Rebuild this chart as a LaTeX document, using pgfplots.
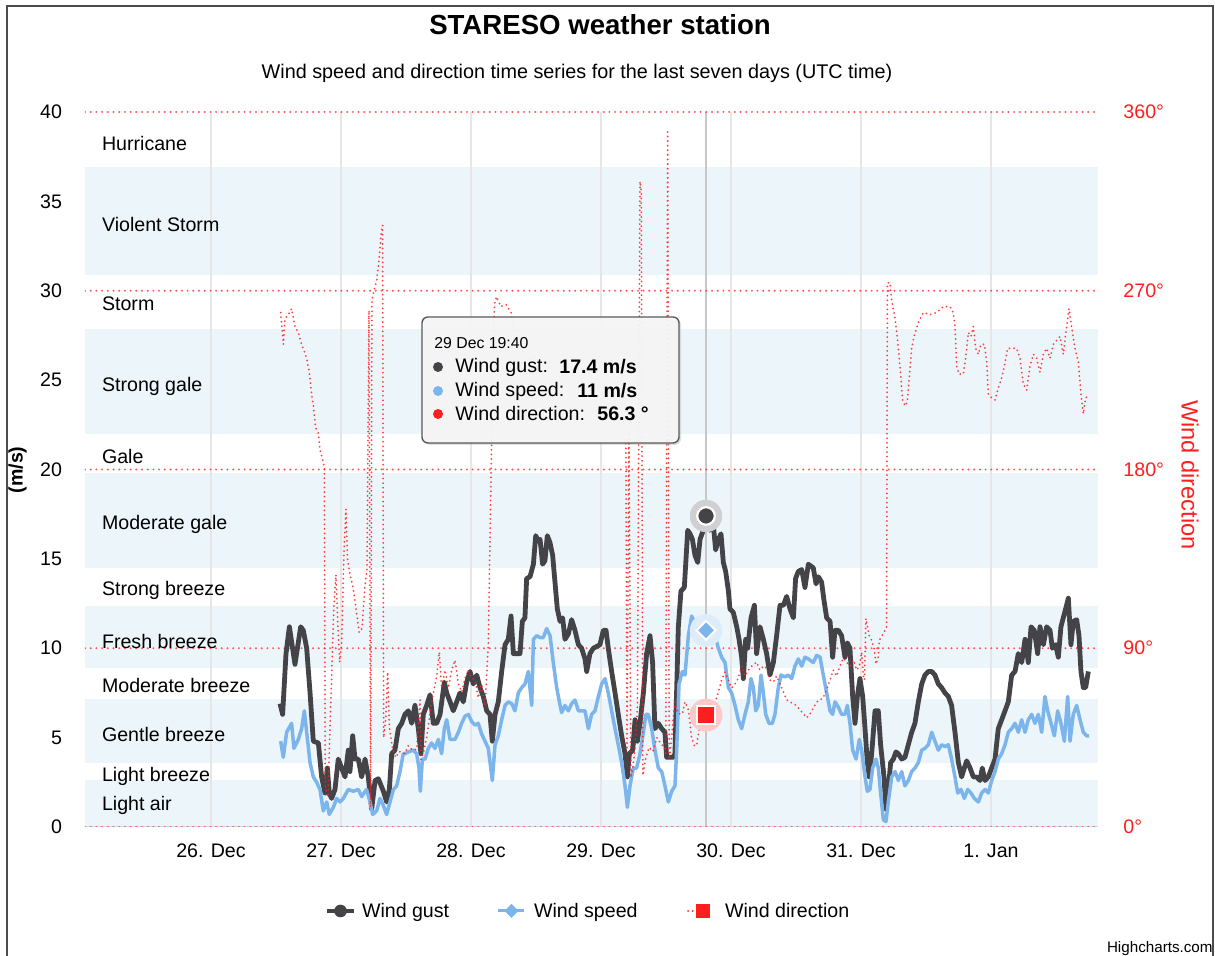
\documentclass[border=0pt]{standalone}
\usepackage{fontspec}
\setmainfont{Liberation Sans}
\usepackage{pgfplots}
\pgfplotsset{compat=1.18}
\definecolor{band}{RGB}{235,245,250}
\definecolor{gust}{HTML}{434348}
\definecolor{speed}{HTML}{7CB5EC}
\definecolor{dirred}{RGB}{255,30,30}
\definecolor{gridgray}{HTML}{E6E6E6}
\definecolor{axisline}{HTML}{CCD6EB}
\definecolor{gusthalo}{RGB}{208,208,210}
\definecolor{speedhalo}{RGB}{222,236,250}
\definecolor{dirhalo}{RGB}{255,200,200}
\newcommand{\fs}{\fontsize{9.8}{11.5}\selectfont}
\begin{document}
\begin{tikzpicture}
\useasboundingbox (0,0) rectangle (607.5pt,478pt);
\draw[black!70, line width=0.7pt] (3.5pt,-5pt) rectangle (606.5pt,475pt);
\node[font=\fontsize{13.8}{16}\selectfont\bfseries, inner sep=0] at (300pt,465.5pt) {STARESO weather station};
\node[font=\fontsize{9.9}{12}\selectfont, inner sep=0] at (288.5pt,441.5pt) {Wind speed and direction time series for the last seven days (UTC time)};

\begin{axis}[
  at={(42.5pt,64.5pt)}, anchor=south west, scale only axis,
  width=506.5pt, height=357.5pt,
  xmin=-0.9692, xmax=6.8231, ymin=0, ymax=40,
  axis line style={draw=none},
  tick style={draw=none},
  xtick={0,1,2,3,4,5,6},
  xticklabels={26. Dec,27. Dec,28. Dec,29. Dec,30. Dec,31. Dec,1. Jan},
  ytick={0,5,...,40},
  /pgf/number format/assume math mode=true,
  tick label style={font=\fs},
  xticklabel style={anchor=base, yshift=-15.5pt},
  yticklabel style={anchor=east, xshift=-8pt},
]
% plot bands
\fill[band] (-0.9692,0) rectangle (6.8231,2.65);
\fill[band] (-0.9692,3.57) rectangle (6.8231,7.18);
\fill[band] (-0.9692,8.92) rectangle (6.8231,12.34);
\fill[band] (-0.9692,14.48) rectangle (6.8231,19.8);
\fill[band] (-0.9692,21.98) rectangle (6.8231,27.87);
\fill[band] (-0.9692,30.87) rectangle (6.8231,36.92);
% day grid lines
\draw[gridgray, line width=1.2pt] (0,0) -- (0,40);
\draw[gridgray, line width=1.2pt] (1,0) -- (1,40);
\draw[gridgray, line width=1.2pt] (2,0) -- (2,40);
\draw[gridgray, line width=1.2pt] (3,0) -- (3,40);
\draw[gridgray, line width=1.2pt] (4,0) -- (4,40);
\draw[gridgray, line width=1.2pt] (5,0) -- (5,40);
\draw[gridgray, line width=1.2pt] (6,0) -- (6,40);
% crosshair
\draw[black!22, line width=1.4pt] (3.808,0) -- (3.808,40);
% axis line and direction grid lines (0,90,180,270,360 deg)
\draw[axisline, line width=0.7pt] (-0.9692,0) -- (6.8231,0);
\draw[dirred!75, line width=1.1pt, line cap=round, dash pattern=on 0pt off 2.85pt] (-0.9692,0) -- (6.8231,0);
\draw[dirred!75, line width=1.1pt, line cap=round, dash pattern=on 0pt off 2.85pt] (-0.9692,10) -- (6.8231,10);
\draw[dirred!75, line width=1.1pt, line cap=round, dash pattern=on 0pt off 2.85pt] (-0.9692,20) -- (6.8231,20);
\draw[dirred!75, line width=1.1pt, line cap=round, dash pattern=on 0pt off 2.85pt] (-0.9692,30) -- (6.8231,30);
\draw[dirred!75, line width=1.1pt, line cap=round, dash pattern=on 0pt off 2.85pt] (-0.9692,40) -- (6.8231,40);
% band labels
\begin{scope}[every node/.style={anchor=west, font=\fs, inner sep=0}]
\node at (-0.841,38.26) {Hurricane};
\node at (-0.841,33.7) {Violent Storm};
\node at (-0.841,29.26) {Storm};
\node at (-0.841,24.65) {Strong gale};
\node at (-0.841,20.7) {Gale};
\node at (-0.841,16.95) {Moderate gale};
\node at (-0.841,13.25) {Strong breeze};
\node at (-0.841,10.4) {Fresh breeze};
\node at (-0.841,7.93) {Moderate breeze};
\node at (-0.841,5.17) {Gentle breeze};
\node at (-0.841,2.84) {Light breeze};
\node at (-0.841,1.18) {Light air};
\end{scope}
% Wind gust
\addplot[gust, line width=2.4pt, line join=round, mark=none] coordinates {
(0.531,6.9)(0.551,6.3)(0.577,9.7)(0.603,11.2)(0.646,9.1)(0.690,11.2)(0.710,11.0)(0.736,10.0)
(0.762,7.5)(0.787,4.8)(0.826,4.7)(0.851,2.8)(0.877,1.9)(0.895,3.3)(0.910,1.9)(0.928,1.6)
(0.954,2.1)(0.979,3.8)(1.005,3.3)(1.031,2.8)(1.056,4.3)(1.069,3.1)(1.090,5.1)(1.108,3.8)
(1.133,3.8)(1.159,2.8)(1.185,3.8)(1.210,2.8)(1.236,1.0)(1.262,2.6)(1.287,2.7)(1.326,2.0)
(1.351,1.4)(1.372,2.1)(1.390,4.1)(1.415,4.3)(1.441,5.5)(1.467,5.8)(1.492,6.3)(1.518,6.5)
(1.544,5.8)(1.569,6.8)(1.595,5.5)(1.615,4.1)(1.633,6.3)(1.659,6.8)(1.685,7.4)(1.710,5.8)
(1.736,5.8)(1.762,6.3)(1.795,8.1)(1.813,7.5)(1.839,7.0)(1.864,6.5)(1.890,7.0)(1.915,7.5)
(1.941,7.0)(1.967,8.1)(1.992,8.7)(2.018,8.0)(2.044,8.5)(2.069,7.8)(2.095,7.3)(2.121,6.5)
(2.146,6.3)(2.164,4.8)(2.185,6.3)(2.210,7.0)(2.236,8.7)(2.262,10.2)(2.287,10.5)(2.308,11.8)
(2.326,9.7)(2.351,9.7)(2.377,9.7)(2.395,11.5)(2.415,11.7)(2.428,13.9)(2.454,14.0)(2.480,14.7)
(2.498,16.3)(2.518,16.0)(2.531,16.1)(2.551,14.7)(2.569,14.9)(2.587,16.3)(2.608,15.9)(2.628,15.2)
(2.646,13.7)(2.664,12.2)(2.685,11.5)(2.705,11.7)(2.723,10.5)(2.749,10.8)(2.774,11.6)(2.800,11.0)
(2.826,10.2)(2.851,10.0)(2.877,9.4)(2.890,8.7)(2.915,9.7)(2.941,10.0)(2.967,10.1)(2.992,10.2)
(3.018,11.0)(3.039,11.0)(3.056,10.0)(3.082,8.7)(3.108,7.5)(3.133,6.3)(3.159,5.1)(3.185,4.1)
(3.203,2.8)(3.218,4.1)(3.244,4.3)(3.262,6.0)(3.280,4.8)(3.300,5.8)(3.326,7.5)(3.351,9.7)
(3.377,10.7)(3.397,9.2)(3.415,5.5)(3.441,5.8)(3.467,5.5)(3.492,5.3)(3.505,3.9)(3.531,3.9)
(3.556,3.9)(3.569,4.1)(3.595,11.2)(3.615,13.2)(3.641,13.4)(3.667,16.6)(3.685,16.4)(3.703,16.1)
(3.723,15.2)(3.744,14.8)(3.762,16.1)(3.787,16.6)(3.808,17.4)(3.838,16.6)(3.864,16.9)(3.882,15.5)
(3.903,16.1)(3.923,16.4)(3.941,14.8)(3.959,14.3)(3.980,13.2)(3.992,12.2)(4.018,12.0)(4.044,11.2)
(4.062,10.5)(4.082,9.5)(4.095,8.3)(4.113,10.5)(4.128,10.0)(4.154,11.7)(4.180,12.4)(4.197,9.7)
(4.223,11.2)(4.249,10.5)(4.274,9.7)(4.300,8.5)(4.326,9.2)(4.351,10.7)(4.377,12.4)(4.403,12.4)
(4.428,12.9)(4.454,12.2)(4.480,11.7)(4.497,13.9)(4.518,14.3)(4.544,14.4)(4.569,13.4)(4.595,14.7)
(4.633,14.5)(4.654,13.6)(4.672,14.0)(4.697,13.7)(4.715,12.7)(4.736,11.7)(4.762,11.5)(4.782,9.5)
(4.800,11.0)(4.826,11.0)(4.851,10.7)(4.877,9.5)(4.895,10.3)(4.915,10.0)(4.936,7.3)(4.954,5.8)
(4.972,7.3)(4.992,8.3)(5.013,7.3)(5.031,5.5)(5.049,3.6)(5.064,2.8)(5.082,4.1)(5.108,6.5)
(5.133,6.5)(5.151,4.6)(5.177,2.8)(5.192,1.0)(5.210,2.1)(5.228,3.6)(5.249,3.8)(5.269,4.2)
(5.287,4.1)(5.313,3.8)(5.338,3.9)(5.364,4.6)(5.390,5.3)(5.415,5.8)(5.441,7.0)(5.467,8.0)
(5.492,8.5)(5.518,8.7)(5.544,8.7)(5.569,8.5)(5.595,8.0)(5.620,7.8)(5.646,7.5)(5.672,7.3)
(5.697,6.8)(5.723,5.3)(5.749,3.6)(5.774,2.8)(5.795,3.3)(5.813,3.7)(5.839,3.3)(5.864,2.8)
(5.890,2.8)(5.915,2.6)(5.933,3.3)(5.954,2.6)(5.979,2.8)(6.005,3.3)(6.031,3.8)(6.056,5.5)
(6.082,6.0)(6.108,6.5)(6.133,7.0)(6.159,8.5)(6.185,8.7)(6.210,9.7)(6.236,9.2)(6.262,10.5)
(6.287,9.2)(6.308,11.2)(6.333,11.0)(6.359,9.7)(6.377,11.2)(6.403,10.2)(6.428,11.2)(6.454,11.0)
(6.472,10.0)(6.497,10.2)(6.518,9.5)(6.538,11.2)(6.556,11.7)(6.574,12.2)(6.595,12.8)(6.615,10.2)
(6.633,11.5)(6.659,11.6)(6.677,10.7)(6.692,8.7)(6.710,7.8)(6.728,7.8)(6.749,8.7)
};
% Wind speed
\addplot[speed, line width=1.75pt, line join=round, mark=none] coordinates {
(0.536,4.8)(0.556,3.9)(0.582,5.3)(0.620,5.8)(0.638,4.4)(0.672,4.9)(0.697,5.5)(0.718,6.5)
(0.736,5.3)(0.762,3.6)(0.787,2.8)(0.813,2.5)(0.838,2.1)(0.864,0.9)(0.890,1.4)(0.910,0.7)
(0.941,1.1)(0.967,1.6)(0.992,1.4)(1.018,1.6)(1.056,2.1)(1.095,2.0)(1.133,2.1)(1.159,1.7)
(1.197,2.1)(1.223,1.4)(1.244,0.7)(1.274,0.9)(1.300,1.6)(1.326,1.2)(1.351,0.7)(1.377,1.4)
(1.403,2.1)(1.428,2.3)(1.454,3.1)(1.479,4.1)(1.492,4.1)(1.518,4.2)(1.556,4.3)(1.582,4.1)
(1.600,3.3)(1.610,2.0)(1.626,3.8)(1.646,3.8)(1.672,4.4)(1.697,4.7)(1.723,4.4)(1.749,4.9)
(1.774,4.1)(1.795,5.5)(1.813,6.0)(1.839,4.9)(1.877,4.9)(1.903,5.3)(1.928,5.8)(1.954,6.2)
(1.980,6.3)(2.005,5.9)(2.031,5.7)(2.056,5.8)(2.082,5.2)(2.108,4.8)(2.133,4.4)(2.164,2.6)
(2.185,4.6)(2.210,5.1)(2.236,6.0)(2.262,6.8)(2.287,7.0)(2.313,6.9)(2.338,6.5)(2.364,7.5)
(2.390,7.8)(2.415,8.0)(2.441,8.7)(2.467,6.8)(2.480,10.5)(2.505,10.7)(2.531,10.6)(2.556,10.6)
(2.582,11.1)(2.608,10.7)(2.633,9.2)(2.659,7.8)(2.680,7.0)(2.697,6.4)(2.723,6.8)(2.749,6.5)
(2.774,6.9)(2.800,7.1)(2.826,6.5)(2.851,6.5)(2.877,6.5)(2.903,5.5)(2.928,6.3)(2.954,6.5)
(2.980,7.3)(3.005,8.0)(3.031,8.3)(3.056,7.5)(3.082,6.5)(3.108,5.5)(3.133,4.6)(3.159,3.6)
(3.185,2.3)(3.203,1.1)(3.223,2.3)(3.249,3.3)(3.274,3.3)(3.300,4.1)(3.326,5.3)(3.346,6.3)
(3.364,6.3)(3.390,5.5)(3.415,4.3)(3.441,3.3)(3.467,3.1)(3.492,2.3)(3.518,1.4)(3.544,2.0)
(3.569,2.3)(3.582,4.3)(3.600,8.0)(3.626,8.7)(3.646,8.5)(3.672,10.7)(3.697,11.8)(3.718,11.5)
(3.736,10.5)(3.762,11.0)(3.787,11.2)(3.808,11.0)(3.826,11.0)(3.851,11.0)(3.877,10.7)(3.903,10.0)
(3.928,9.5)(3.954,9.2)(3.980,7.8)(4.005,7.5)(4.031,6.8)(4.056,6.0)(4.082,5.5)(4.108,6.3)
(4.133,7.0)(4.154,8.3)(4.172,7.8)(4.190,6.5)(4.210,6.8)(4.231,8.5)(4.249,7.5)(4.267,6.3)
(4.292,5.8)(4.318,5.8)(4.338,6.3)(4.364,7.8)(4.385,8.5)(4.415,8.4)(4.441,8.5)(4.467,8.3)
(4.492,9.0)(4.518,9.4)(4.544,9.0)(4.569,9.5)(4.595,9.4)(4.633,9.2)(4.659,9.6)(4.685,9.5)
(4.710,8.5)(4.736,7.5)(4.762,6.5)(4.782,6.3)(4.800,7.0)(4.826,6.7)(4.851,6.3)(4.877,6.3)
(4.895,6.8)(4.915,5.8)(4.936,4.3)(4.962,3.8)(4.987,4.9)(5.005,4.3)(5.031,2.8)(5.049,2.0)
(5.069,2.1)(5.090,3.3)(5.115,3.8)(5.133,3.3)(5.151,1.9)(5.172,0.4)(5.192,0.3)(5.210,1.4)
(5.236,2.8)(5.262,3.1)(5.287,2.6)(5.313,3.1)(5.338,2.3)(5.364,2.6)(5.390,3.1)(5.415,3.3)
(5.441,3.6)(5.467,4.3)(5.492,4.4)(5.518,4.6)(5.544,5.3)(5.569,4.8)(5.595,4.3)(5.620,4.6)
(5.646,4.5)(5.672,4.6)(5.697,3.8)(5.723,2.8)(5.744,1.9)(5.769,2.1)(5.795,1.6)(5.821,2.1)
(5.846,1.9)(5.872,1.6)(5.903,1.4)(5.928,1.9)(5.954,2.1)(5.979,1.9)(6.005,2.6)(6.031,3.1)
(6.056,3.8)(6.082,4.1)(6.108,4.6)(6.133,5.3)(6.159,5.5)(6.185,5.8)(6.210,5.3)(6.236,6.0)
(6.262,5.3)(6.287,6.0)(6.313,6.3)(6.338,5.8)(6.364,6.3)(6.390,5.3)(6.415,7.3)(6.436,6.5)
(6.462,5.8)(6.487,5.1)(6.513,6.5)(6.538,5.8)(6.564,4.8)(6.590,7.3)(6.608,4.8)(6.633,6.3)
(6.659,6.8)(6.685,6.0)(6.710,5.3)(6.736,5.1)(6.754,5.1)
};
% hover markers
\addplot[only marks, color=gusthalo, mark=*, mark size=7.9pt, mark options={gusthalo, fill=gusthalo}] coordinates {(3.808,17.4)};
\addplot[only marks, color=white, mark=*, mark size=4.4pt, mark options={draw=white, line width=1.1pt, fill=gust}] coordinates {(3.808,17.4)};
\addplot[only marks, color=speedhalo, mark=*, mark size=7.9pt, mark options={speedhalo, fill=speedhalo}] coordinates {(3.808,11.0)};
\addplot[only marks, color=white, mark=square*, mark size=3.36pt, mark options={rotate=45, draw=white, line width=1pt, fill=speed}] coordinates {(3.808,11.0)};
\end{axis}

\begin{axis}[
  at={(42.5pt,64.5pt)}, anchor=south west, scale only axis,
  width=506.5pt, height=357.5pt,
  xmin=-0.9692, xmax=6.8231, ymin=0, ymax=360,
  axis x line=none, axis y line*=right,
  axis line style={draw=none}, tick style={draw=none},
  ytick={0,90,180,270,360},
  yticklabels={0°,90°,180°,270°,360°},
  yticklabel style={anchor=west, xshift=9.2pt, font=\fs, text=dirred},
]
\addplot[dirred, opacity=0.85, line width=1pt, line cap=round, dash pattern=on 0pt off 2.3pt, mark=none] coordinates {
(0.536,259)(0.556,243)(0.569,256)(0.595,258)(0.620,261)(0.646,252)(0.672,249)(0.697,243)
(0.736,236)(0.756,229)(0.774,218)(0.787,212)(0.805,201)(0.826,198)(0.838,190)(0.859,185)
(0.872,181)(0.879,20)(0.900,15)(0.920,60)(0.946,112)(0.961,127)(0.977,100)(0.990,83)
(1.005,92)(1.023,139)(1.038,160)(1.051,134)(1.067,128)(1.095,120)(1.115,110)(1.140,98)
(1.162,100)(1.182,120)(1.200,130)(1.215,260)(1.228,10)(1.238,265)(1.254,270)(1.274,275)
(1.292,285)(1.310,300)(1.320,303)(1.328,45)(1.345,55)(1.359,78)(1.372,50)(1.395,40)
(1.420,35)(1.450,38)(1.480,37)(1.492,37)(1.518,41)(1.544,39)(1.582,39)(1.608,64)
(1.615,34)(1.633,37)(1.659,45)(1.697,63)(1.736,76)(1.756,88)(1.774,70)(1.800,79)
(1.826,70)(1.851,79)(1.877,84)(1.903,72)(1.928,68)(1.954,75)(1.980,79)(2.005,75)
(2.031,74)(2.056,65)(2.082,72)(2.108,61)(2.133,92)(2.154,176)(2.169,234)(2.180,263)
(2.195,267)(2.230,262)(2.270,263)(2.308,259)(2.35,245)(2.45,235)(2.55,240)(2.65,230)
(2.75,225)(2.85,235)(2.95,240)(3.05,230)(3.15,225)(3.19,215)(3.200,40)(3.215,200)
(3.230,25)(3.245,30)(3.262,40)(3.280,60)(3.300,325)(3.310,320)(3.322,26)(3.345,35)
(3.370,40)(3.400,38)(3.430,45)(3.460,42)(3.490,40)(3.498,36)(3.513,350)(3.525,34)
(3.545,45)(3.556,55)(3.569,63)(3.595,57)(3.626,57)(3.646,63)(3.672,59)(3.697,45)
(3.718,41)(3.736,41)(3.762,52)(3.808,56.3)(3.851,59)(3.890,65)(3.928,74)(3.954,78)
(3.980,74)(4.005,70)(4.031,72)(4.056,75)(4.082,81)(4.108,76)(4.133,79)(4.159,81)
(4.197,83)(4.223,79)(4.249,81)(4.274,80)(4.300,74)(4.326,73)(4.351,76)(4.377,72)
(4.403,68)(4.428,64)(4.454,63)(4.480,62)(4.505,61)(4.531,59)(4.556,57)(4.582,55)
(4.608,57)(4.659,63)(4.710,65)(4.762,74)(4.787,79)(4.813,76)(4.838,81)(4.864,85)
(4.890,83)(4.915,81)(4.941,84)(4.967,79)(4.987,81)(5.005,88)(5.018,76)(5.026,74)
(5.038,105)(5.049,101)(5.064,96)(5.082,94)(5.100,90)(5.115,82)(5.131,85)(5.141,94)
(5.159,96)(5.185,99)(5.197,101)(5.203,274)(5.223,274)(5.236,265)(5.262,256)(5.279,247)
(5.300,232)(5.320,215)(5.338,212)(5.356,214)(5.372,227)(5.390,241)(5.408,247)(5.441,254)
(5.479,259)(5.531,258)(5.582,259)(5.633,262)(5.672,262)(5.685,262)(5.710,259)(5.723,252)
(5.736,232)(5.754,228)(5.787,228)(5.805,236)(5.826,249)(5.846,247)(5.864,252)(5.882,241)
(5.903,238)(5.923,243)(5.949,243)(5.967,234)(5.979,218)(6.005,216)(6.031,215)(6.056,221)
(6.077,225)(6.103,232)(6.128,241)(6.159,241)(6.197,241)(6.223,236)(6.249,223)(6.274,220)
(6.300,232)(6.326,238)(6.351,236)(6.377,229)(6.403,238)(6.428,241)(6.454,236)(6.479,243)
(6.505,245)(6.531,247)(6.556,238)(6.582,252)(6.600,261)(6.620,252)(6.646,241)(6.672,234)
(6.692,218)(6.710,208)(6.728,216)(6.744,217)
};
\addplot[only marks, color=dirhalo, mark=*, mark size=8pt, mark options={dirhalo, fill=dirhalo}] coordinates {(3.808,56.3)};
\addplot[only marks, color=white, mark=square*, mark size=4.5pt, mark options={draw=white, line width=0.8pt, fill=dirred}] coordinates {(3.808,56.3)};
\end{axis}

% axis titles
\node[rotate=90, font=\fs\bfseries] at (8.75pt,243pt) {(m/s)};
\node[rotate=-90, text=dirred, font=\fontsize{11.8}{14}\selectfont] at (595pt,240.5pt) {Wind direction};

% tooltip
\fill[black!30, opacity=0.4, rounded corners=3pt] (212pt,255.5pt) rectangle (340.5pt,318.5pt);
\draw[fill=white!97!black, fill opacity=0.93, draw=black!65, line width=0.7pt, rounded corners=3pt] (211pt,256.5pt) rectangle (339.5pt,319.5pt);
\node[anchor=west, inner sep=0, font=\fontsize{7.9}{9}\selectfont] at (217pt,306.5pt) {29 Dec 19:40};
\fill[gust] (219pt,294.5pt) circle (2.5pt);
\fill[speed] (219pt,282.5pt) circle (2.5pt);
\fill[dirred] (219pt,271pt) circle (2.5pt);
\begin{scope}[every node/.style={anchor=west, inner sep=0, font=\fs}]
\node at (227.5pt,294.5pt) {Wind gust:};
\node at (227.5pt,282.5pt) {Wind speed:};
\node at (227.5pt,271pt) {Wind direction:};
\node[font=\fs\bfseries] at (279.5pt,294.5pt) {17.4 m/s};
\node[font=\fs\bfseries] at (288.5pt,282.5pt) {11 m/s};
\node[font=\fs\bfseries] at (298.5pt,271pt) {56.3 °};
\end{scope}

% legend
\draw[gust, line width=2pt] (163.5pt,22.5pt) -- (177pt,22.5pt);
\fill[gust] (170.25pt,22.5pt) circle (3.15pt);
\draw[speed, line width=1.5pt] (249pt,22.5pt) -- (262pt,22.5pt);
\fill[speed] (255.75pt,26pt) -- (259.25pt,22.5pt) -- (255.75pt,19pt) -- (252.25pt,22.5pt) -- cycle;
\draw[dirred, line width=1pt, line cap=round, dash pattern=on 0pt off 2.3pt] (344pt,22.5pt) -- (350pt,22.5pt);
\fill[dirred] (348pt,19pt) rectangle (355pt,26pt);
\begin{scope}[every node/.style={anchor=base west, inner sep=0, font=\fs}]
\node at (180.8pt,19pt) {Wind gust};
\node at (266.85pt,19pt) {Wind speed};
\node at (362.35pt,19pt) {Wind direction};
\end{scope}
\node[anchor=base east, inner sep=0, font=\fontsize{7.6}{9}\selectfont] at (606.5pt,1.8pt) {Highcharts.com};
\end{tikzpicture}
\end{document}
